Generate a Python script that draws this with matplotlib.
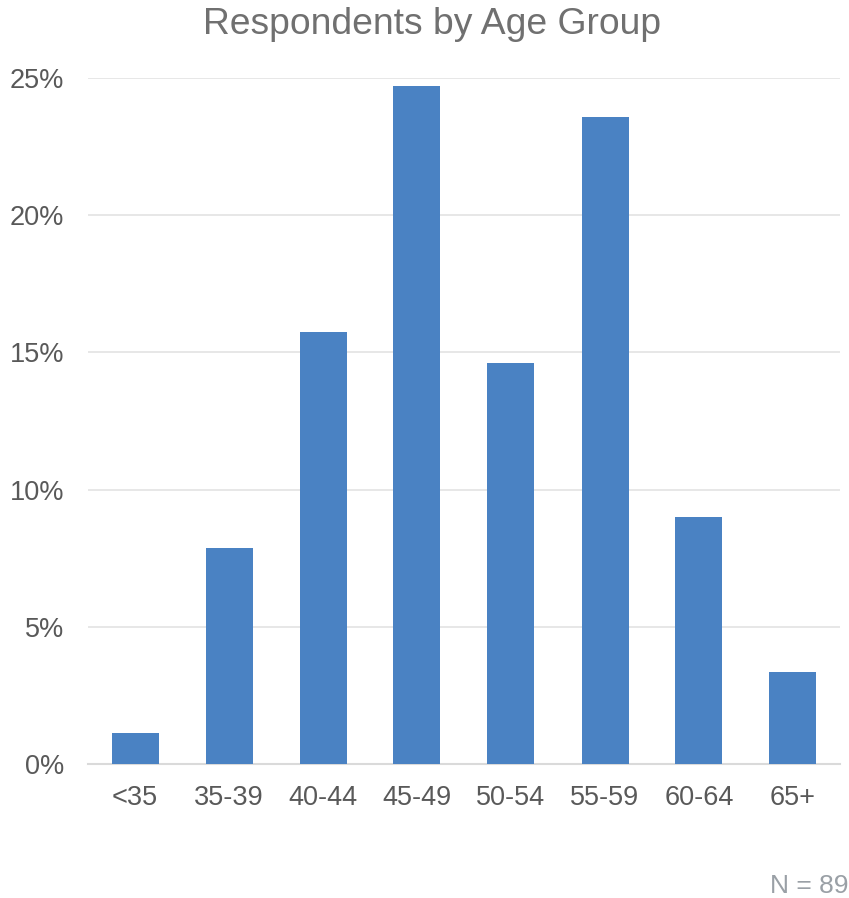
import matplotlib
matplotlib.use("Agg")
import matplotlib.pyplot as plt
from matplotlib.ticker import FuncFormatter

categories = ["<35", "35-39", "40-44", "45-49", "50-54", "55-59", "60-64", "65+"]
counts = [1, 7, 14, 22, 13, 21, 8, 3]
total_n = 89
percent = [c / total_n * 100 for c in counts]
y_ticks = [0, 5, 10, 15, 20, 25]

plt.rcParams['font.family'] = ['Liberation Sans', 'DejaVu Sans']

fig = plt.figure(figsize=(8.49, 8.98), dpi=100)
ax = fig.add_axes([88/849, (898-764)/898, (840-88)/849, (764-78)/898])

ax.bar(range(len(categories)), percent, width=0.5, color="#4A82C3", zorder=3)
ax.set_xlim(-0.5, len(categories) - 0.5)
ax.set_ylim(0, 25)
ax.set_yticks(y_ticks)
ax.yaxis.set_major_formatter(FuncFormatter(lambda v, p: f"{v:.0f}%"))
ax.set_xticks(range(len(categories)))
ax.set_xticklabels(categories)

ax.grid(axis="y", color="#E3E3E3", linewidth=1.2, zorder=0)
for s in ["top", "right", "left"]:
    ax.spines[s].set_visible(False)
ax.spines["bottom"].set_color("#DADADA")
ax.spines["bottom"].set_linewidth(1.5)
ax.tick_params(axis="both", length=0, labelsize=19.5, labelcolor="#595959")
ax.tick_params(axis="x", pad=15)
ax.tick_params(axis="y", pad=17)

fig.text(432/849, 1 - 25/898, "Respondents by Age Group", ha="center", va="center",
         fontsize=26.8, color="#707070")
fig.text(1 - 1/849, 1 - 886/898, f"N = {total_n}", ha="right", va="center",
         fontsize=19, color="#9AA0A6")

fig.savefig("out.png", dpi=100)
